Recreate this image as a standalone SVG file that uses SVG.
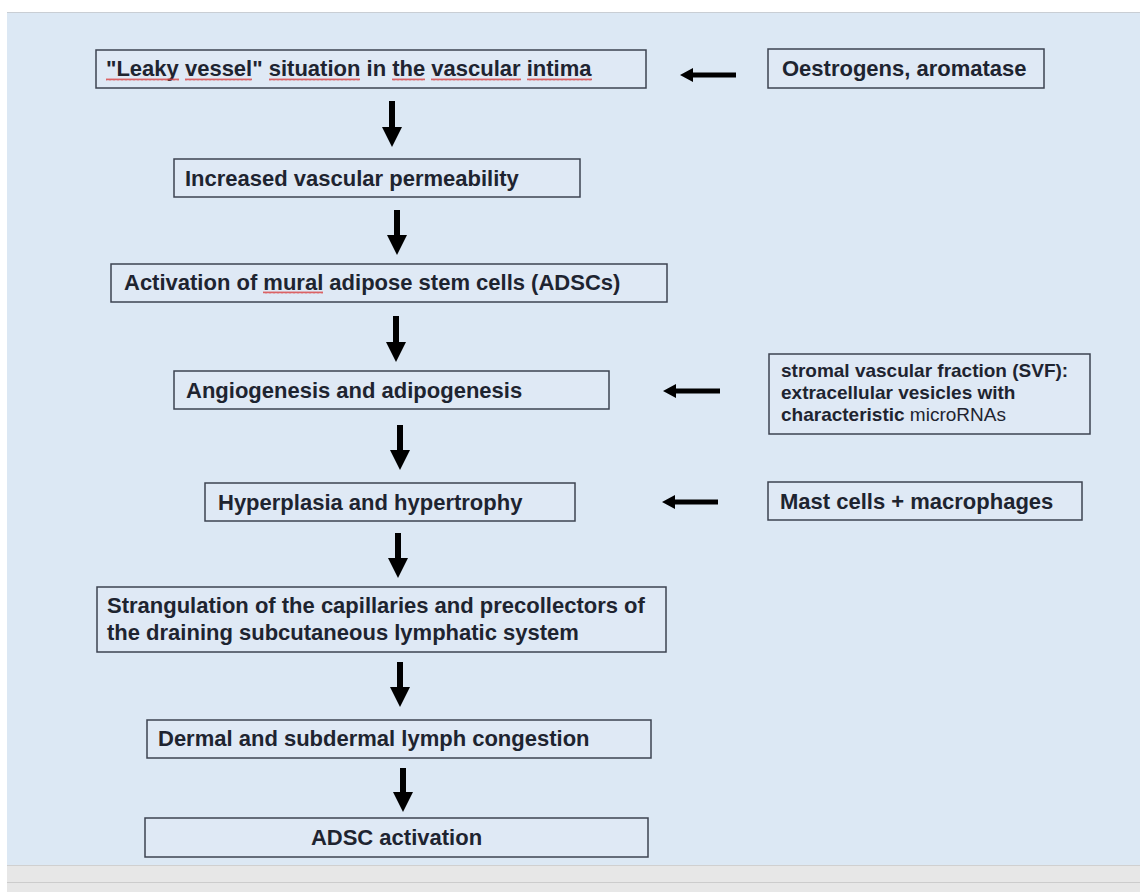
<svg xmlns="http://www.w3.org/2000/svg" width="1140" height="892" viewBox="0 0 1140 892">
<style>
.bx{fill:#dfe9f5;stroke:#3d4350;stroke-width:1.5}
.t{font-family:"Liberation Sans",Arial,sans-serif;font-weight:bold;font-size:22px;fill:#1e2430}
.ts{font-family:"Liberation Sans",Arial,sans-serif;font-weight:bold;font-size:19px;fill:#1e2430}
.n{font-weight:normal}
.ar{fill:#000}
.sq{fill:url(#squig)}
</style>
<defs>
<pattern id="squig" x="0" y="0" width="4" height="3" patternUnits="userSpaceOnUse">
<path d="M0,2.5 L1,0.5 L2,2.5 L3,0.5 L4,2.5" fill="none" stroke="#d94040" stroke-width="0.8"/>
</pattern>
</defs>
<rect x="0" y="0" width="1140" height="892" fill="#ffffff"/>
<rect x="7" y="12" width="1133" height="853" fill="#dce8f4"/>
<line x1="7" y1="12.5" x2="1140" y2="12.5" stroke="#c9ced4" stroke-width="1"/>
<rect x="7" y="865" width="1133" height="27" fill="#e7e7e7"/>
<line x1="7" y1="865.5" x2="1140" y2="865.5" stroke="#d0d0d0" stroke-width="1"/>
<line x1="7" y1="882.5" x2="1140" y2="882.5" stroke="#cccccc" stroke-width="1"/>

<g id="connectors">
<path class="ar" d="M389,101 H395 V127 H402 L392,147 L382,127 H389 Z"/>
<path class="ar" d="M394,210 H400 V235 H407 L397,255 L387,235 H394 Z"/>
<path class="ar" d="M393,316 H399 V342 H406 L396,362 L386,342 H393 Z"/>
<path class="ar" d="M397,425 H403 V450 H410 L400,470 L390,450 H397 Z"/>
<path class="ar" d="M395,533 H401 V558 H408 L398,578 L388,558 H395 Z"/>
<path class="ar" d="M397,662 H403 V687 H410 L400,707 L390,687 H397 Z"/>
<path class="ar" d="M400,768 H406 V792 H413 L403,812 L393,792 H400 Z"/>
<path class="ar" d="M736,72.5 V77.5 H693 V82 L680,75 L693,68 V72.5 Z"/>
<path class="ar" d="M720,388.5 V393.5 H676 V398 L663,391 L676,384 V388.5 Z"/>
<path class="ar" d="M718,499.5 V504.5 H675 V509 L662,502 L675,495 V499.5 Z"/>
</g>

<g id="n1">
<rect class="bx" x="96" y="50" width="550" height="38"/>
<text class="t" x="106" y="76">"Leaky vessel" situation in the vascular intima</text>
<rect class="sq" x="106" y="78" width="73" height="3"/>
<rect class="sq" x="185" y="78" width="67" height="3"/>
<rect class="sq" x="269" y="78" width="91" height="3"/>
<rect class="sq" x="392" y="78" width="33" height="3"/>
<rect class="sq" x="431" y="78" width="90" height="3"/>
<rect class="sq" x="527" y="78" width="65" height="3"/>
</g>
<g id="n_oestrogens">
<rect class="bx" x="768" y="49" width="276" height="39"/>
<text class="t" x="782" y="76">Oestrogens, aromatase</text>
</g>
<g id="n2">
<rect class="bx" x="174" y="159" width="406" height="38"/>
<text class="t" x="185" y="186">Increased vascular permeability</text>
</g>
<g id="n3">
<rect class="bx" x="111" y="264" width="556" height="38"/>
<text class="t" x="124" y="290">Activation of mural adipose stem cells (ADSCs)</text>
<rect class="sq" x="263" y="291" width="60" height="3"/>
</g>
<g id="n4">
<rect class="bx" x="174" y="371" width="435" height="38"/>
<text class="t" x="186" y="398">Angiogenesis and adipogenesis</text>
</g>
<g id="n_svf">
<rect class="bx" x="769" y="354" width="321" height="80"/>
<text class="ts" x="781" y="377">stromal vascular fraction (SVF):</text>
<text class="ts" x="781" y="399">extracellular vesicles with</text>
<text class="ts" x="781" y="421">characteristic <tspan class="n">microRNAs</tspan></text>
</g>
<g id="n5">
<rect class="bx" x="205" y="483" width="370" height="38"/>
<text class="t" x="218" y="510">Hyperplasia and hypertrophy</text>
</g>
<g id="n_mast">
<rect class="bx" x="768" y="482" width="314" height="38"/>
<text class="t" x="780" y="509">Mast cells + macrophages</text>
</g>
<g id="n6">
<rect class="bx" x="97" y="587" width="569" height="65"/>
<text class="t" x="107" y="613">Strangulation of the capillaries and precollectors of</text>
<text class="t" x="107" y="640">the draining subcutaneous lymphatic system</text>
</g>
<g id="n7">
<rect class="bx" x="147" y="720" width="504" height="38"/>
<text class="t" x="158" y="746">Dermal and subdermal lymph congestion</text>
</g>
<g id="n8">
<rect class="bx" x="145" y="818" width="503" height="39"/>
<text class="t" x="396.5" y="845" text-anchor="middle">ADSC activation</text>
</g>
</svg>
